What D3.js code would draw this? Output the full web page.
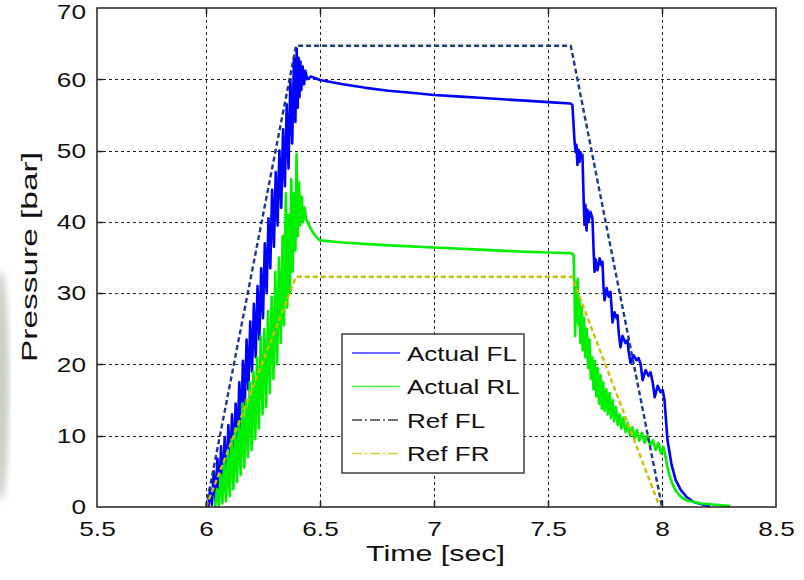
<!DOCTYPE html>
<html>
<head>
<meta charset="utf-8">
<title>pressure</title>
<script src="https://cdnjs.cloudflare.com/ajax/libs/d3/7.8.5/d3.min.js"></script>
<style>
  body { margin: 0; background: #fff; }
  svg { display: block; font-family: "Liberation Sans", Arial, sans-serif; }
  .grid line { stroke: #222; stroke-width: 1px; stroke-dasharray: 3,3; shape-rendering: crispEdges; }
  .tick-label { font-size: 21px; fill: #111; }
  .axis-title { font-size: 22px; fill: #111; }
  .series { fill: none; stroke-linejoin: round; }
</style>
</head>
<body>
<svg width="804" height="580"></svg>
<script>
// tick labels
var xTicks = [5.5, 6, 6.5, 7, 7.5, 8, 8.5];
var yTicks = [0, 10, 20, 30, 40, 50, 60, 70];

// series: [time (sec), pressure (bar)]
var refFL = [[6.0, 0], [6.395, 64.7], [7.60, 64.7], [8.0, 0]];
var refFR = [[6.0, 0], [6.395, 32.3], [7.605, 32.3], [7.99, 0]];

var actualFL = [
  [6.010, 0], [6.018, 2.5], [6.026, 0.3], [6.034, 5], [6.042, 0.8], [6.050, 6.8], [6.058, 1.5],
  [6.066, 8.5], [6.074, 2.8], [6.082, 9.8], [6.090, 3.5], [6.098, 11.5], [6.106, 5], [6.114, 13],
  [6.122, 6], [6.130, 14.5], [6.138, 8.5], [6.146, 17.5], [6.154, 11], [6.162, 20.5], [6.170, 14],
  [6.178, 23.5], [6.186, 16.5], [6.194, 26], [6.202, 19], [6.210, 28.5], [6.218, 21], [6.226, 31],
  [6.234, 23.5], [6.242, 33.5], [6.250, 26.5], [6.258, 37], [6.266, 30], [6.274, 40.5], [6.282, 33.5],
  [6.290, 44.5], [6.298, 36.5], [6.306, 47], [6.314, 39.5], [6.322, 50], [6.330, 42], [6.338, 53],
  [6.346, 45], [6.354, 56.5], [6.362, 47.5], [6.370, 60], [6.378, 51], [6.386, 63], [6.392, 54],
  [6.398, 64.3], [6.402, 56], [6.406, 63], [6.410, 57.5], [6.414, 62.5], [6.418, 58.5], [6.424, 61.8],
  [6.430, 59.3], [6.436, 61.2], [6.444, 60], [6.46, 60.4], [6.5, 59.9],
  [6.6, 59.3], [6.7, 58.8], [6.8, 58.4], [6.9, 58.1], [7.0, 57.8], [7.1, 57.6], [7.2, 57.4],
  [7.3, 57.2], [7.4, 57.0], [7.5, 56.8], [7.599, 56.6], [7.607, 56.4],
  [7.616, 51.5], [7.621, 49.8], [7.625, 50.8], [7.629, 48.0], [7.634, 50.1], [7.638, 48.4],
  [7.642, 49.8], [7.647, 49.0], [7.651, 49.4],
  [7.656, 43.5], [7.660, 39.6], [7.664, 42.4], [7.669, 38.8], [7.673, 41.7], [7.678, 40.0],
  [7.686, 41.4], [7.695, 40.5],
  [7.700, 36.0], [7.704, 33.0], [7.708, 34.8], [7.717, 33.2], [7.726, 34.9], [7.735, 33.9], [7.739, 34.4],
  [7.743, 31.1], [7.748, 29.0], [7.757, 30.7], [7.766, 29.5], [7.774, 30.2],
  [7.779, 27.9], [7.783, 25.9], [7.792, 27.3], [7.801, 26.5], [7.805, 26.9],
  [7.810, 24.5], [7.818, 22.4], [7.827, 24.0], [7.840, 23.0], [7.849, 23.4],
  [7.853, 22.0], [7.862, 20.2], [7.875, 21.3], [7.888, 20.6], [7.897, 20.9],
  [7.906, 20.1], [7.915, 17.8], [7.928, 19.2], [7.941, 18.4], [7.950, 18.9],
  [7.959, 17.5], [7.968, 15.4], [7.981, 17.0], [7.994, 16.1], [8.003, 16.4],
  [8.011, 15.0], [8.024, 9.4], [8.042, 5.9], [8.060, 3.8], [8.082, 2.4], [8.108, 1.4],
  [8.139, 0.7], [8.191, 0.25], [8.21, 0.1]
];

var actualRL = [
  [6.040, 0], [6.048, 2.5], [6.056, 0.2], [6.064, 4.5], [6.072, 0.5], [6.080, 6.5], [6.088, 0.8],
  [6.096, 8], [6.104, 1.5], [6.112, 9.5], [6.120, 2.5], [6.128, 11], [6.136, 3.5], [6.144, 12],
  [6.152, 4.5], [6.160, 14.5], [6.168, 5.5], [6.176, 15], [6.184, 7], [6.192, 17.5], [6.200, 8],
  [6.208, 19], [6.216, 9.5], [6.224, 21], [6.232, 11], [6.240, 24], [6.248, 13], [6.256, 25],
  [6.264, 14], [6.272, 27.5], [6.280, 16], [6.288, 29.5], [6.296, 18], [6.304, 33], [6.312, 20],
  [6.320, 35], [6.328, 23], [6.336, 38], [6.342, 25.5], [6.350, 44], [6.356, 28], [6.362, 41],
  [6.368, 30], [6.374, 46], [6.380, 33], [6.386, 44], [6.392, 36], [6.397, 49.5], [6.402, 38],
  [6.408, 45.5], [6.414, 39.5], [6.420, 43.5], [6.426, 40], [6.432, 42],
  [6.44, 40.3], [6.46, 39], [6.48, 38], [6.5, 37.4],
  [6.6, 37.1], [6.8, 36.7], [7.0, 36.4], [7.2, 36.1], [7.4, 35.8], [7.60, 35.6], [7.612, 35.4],
  [7.616, 31], [7.619, 24], [7.622, 31.5], [7.626, 26], [7.630, 32], [7.634, 25.5], [7.638, 29],
  [7.642, 23], [7.648, 28], [7.652, 22], [7.658, 26.5], [7.664, 21], [7.670, 25], [7.676, 19.5],
  [7.682, 23.5], [7.688, 18], [7.694, 21], [7.700, 16.5], [7.706, 20.5], [7.712, 15.5], [7.718, 19.5],
  [7.724, 14.5], [7.730, 18.5], [7.736, 13.8], [7.742, 17.5], [7.748, 13.5], [7.756, 16.5], [7.762, 13],
  [7.770, 16], [7.776, 12.5], [7.784, 15], [7.790, 12], [7.798, 14], [7.806, 11.5], [7.814, 13],
  [7.822, 11], [7.830, 12.5], [7.840, 10.5], [7.850, 11.8], [7.860, 10], [7.870, 11.2], [7.880, 9.6],
  [7.890, 10.8], [7.900, 9.3], [7.912, 10.4], [7.924, 9], [7.936, 10], [7.948, 8.6], [7.960, 9.4],
  [7.972, 8], [7.984, 9], [7.996, 7.5], [8.006, 8.4], [8.016, 7], [8.024, 5.6], [8.035, 4.2],
  [8.046, 3.2], [8.060, 2.3], [8.080, 1.5], [8.110, 0.9], [8.17, 0.5], [8.26, 0.25], [8.30, 0.15]
];

var seriesNames = ["Actual FL", "Actual RL", "Ref FL", "Ref FR"];

var svg = d3.select("svg");

// the picture's 5.5 gap is a little narrower than the others
var x = d3.scaleLinear().domain([5.5, 6, 8.5]).range([97, 206, 776]);
var y = d3.scaleLinear().domain([0, 70]).range([507, 8]);

var plotL = x(5.5), plotR = x(8.5), plotT = y(70), plotB = y(0);
var stretch = 1.25; // text in the picture is drawn wide

// smudge at the left edge of the picture
var defs = svg.append("defs");
defs.append("filter").attr("id", "blur")
  .append("feGaussianBlur").attr("stdDeviation", 3);
svg.append("ellipse")
  .attr("cx", 1).attr("cy", 385).attr("rx", 8).attr("ry", 115)
  .attr("fill", "#8a9683").attr("opacity", 0.45).attr("filter", "url(#blur)");

// grid
var grid = svg.append("g").attr("class", "grid");
grid.selectAll(".gx")
  .data(xTicks.slice(1, -1))
  .enter().append("line")
  .attr("x1", function(d) { return Math.round(x(d)) + 0.5; })
  .attr("x2", function(d) { return Math.round(x(d)) + 0.5; })
  .attr("y1", plotT).attr("y2", plotB);
grid.selectAll(".gy")
  .data(yTicks.slice(1, -1))
  .enter().append("line")
  .attr("y1", function(d) { return Math.round(y(d)) + 0.5; })
  .attr("y2", function(d) { return Math.round(y(d)) + 0.5; })
  .attr("x1", plotL).attr("x2", plotR);

// series
var line = d3.line()
  .x(function(d) { return x(d[0]); })
  .y(function(d) { return y(d[1]); });

svg.append("path").datum(actualFL).attr("class", "series")
  .attr("d", line).attr("stroke", "#0000ff").attr("stroke-width", 2.6);
svg.append("path").datum(actualRL).attr("class", "series")
  .attr("d", line).attr("stroke", "#00f000").attr("stroke-width", 2.6);
svg.append("path").datum(refFL).attr("class", "series")
  .attr("d", line).attr("stroke", "#1c3a8e").attr("stroke-width", 2.4)
  .attr("stroke-dasharray", "5,3");
svg.append("path").datum(refFR).attr("class", "series")
  .attr("d", line).attr("stroke", "#c9c000").attr("stroke-width", 2.4)
  .attr("stroke-dasharray", "5,3");

// frame
var frame = svg.append("g");
frame.append("rect")
  .attr("x", plotL).attr("y", plotT)
  .attr("width", plotR - plotL).attr("height", plotB - plotT)
  .attr("fill", "none").attr("stroke", "#222").attr("stroke-width", 1.5);

// axes (labels only, frame draws the lines)
var xAxis = d3.axisBottom(x).tickValues(xTicks).tickSize(0).tickPadding(14)
  .tickFormat(d3.format("~g"));
svg.append("g")
  .attr("transform", "translate(0," + plotB + ")")
  .call(xAxis)
  .call(function(g) {
    g.select(".domain").remove();
    g.selectAll("text").attr("class", "tick-label")
      .attr("transform", "scale(" + stretch + ",1)");
  })
  .attr("font-size", null).attr("font-family", null);

var yAxis = d3.axisLeft(y).tickValues(yTicks).tickSize(0).tickPadding(0);
svg.append("g")
  .attr("transform", "translate(" + (plotL - 11) + ",0)")
  .call(yAxis)
  .call(function(g) {
    g.select(".domain").remove();
    g.selectAll("text").attr("class", "tick-label").attr("x", 0)
      .attr("dy", function(d) { return d === 70 ? "0.5em" : "0.32em"; })
      .attr("transform", "scale(" + stretch + ",1)");
  })
  .attr("font-size", null).attr("font-family", null);

// small inward ticks on all four sides
var tk = 6;
xTicks.slice(1, -1).forEach(function(d) {
  var px = Math.round(x(d)) + 0.5;
  frame.append("line").attr("x1", px).attr("x2", px).attr("y1", plotB).attr("y2", plotB - tk)
    .attr("stroke", "#222").attr("stroke-width", 1.5);
  frame.append("line").attr("x1", px).attr("x2", px).attr("y1", plotT).attr("y2", plotT + tk)
    .attr("stroke", "#222").attr("stroke-width", 1.5);
});
yTicks.slice(1, -1).forEach(function(d) {
  var py = Math.round(y(d)) + 0.5;
  frame.append("line").attr("y1", py).attr("y2", py).attr("x1", plotL).attr("x2", plotL + tk)
    .attr("stroke", "#222").attr("stroke-width", 1.5);
  frame.append("line").attr("y1", py).attr("y2", py).attr("x1", plotR).attr("x2", plotR - tk)
    .attr("stroke", "#222").attr("stroke-width", 1.5);
});

// axis titles
svg.append("text").attr("class", "axis-title")
  .attr("x", 366).attr("y", 561)
  .attr("textLength", 139).attr("lengthAdjust", "spacingAndGlyphs")
  .text("Time [sec]");
svg.append("text").attr("class", "axis-title")
  .attr("transform", "translate(37,362) rotate(-90)")
  .attr("textLength", 210).attr("lengthAdjust", "spacingAndGlyphs")
  .text("Pressure [bar]");

// legend
var legendStyle = [
  { color: "#3838ff", dash: null },
  { color: "#44f044", dash: null },
  { color: "#444444", dash: "10,3,2,3" },
  { color: "#d4d040", dash: "10,3,2,3" }
];
var legend = svg.append("g").attr("transform", "translate(342,334)");
legend.append("rect")
  .attr("width", 182).attr("height", 139)
  .attr("fill", "#fff").attr("stroke", "#222").attr("stroke-width", 1.3);
var row = legend.selectAll(".row")
  .data(seriesNames)
  .enter().append("g")
  .attr("transform", function(d, i) { return "translate(0," + (19 + i * 33.5) + ")"; });
row.append("line")
  .attr("x1", 10).attr("x2", 58).attr("y1", 0).attr("y2", 0)
  .attr("stroke", function(d, i) { return legendStyle[i].color; })
  .attr("stroke-width", 1.6)
  .attr("stroke-dasharray", function(d, i) { return legendStyle[i].dash; });
row.append("text")
  .attr("transform", "translate(65,0) scale(1.24,1)")
  .attr("dy", "0.36em")
  .attr("class", "tick-label")
  .text(function(d) { return d; });
</script>
</body>
</html>
